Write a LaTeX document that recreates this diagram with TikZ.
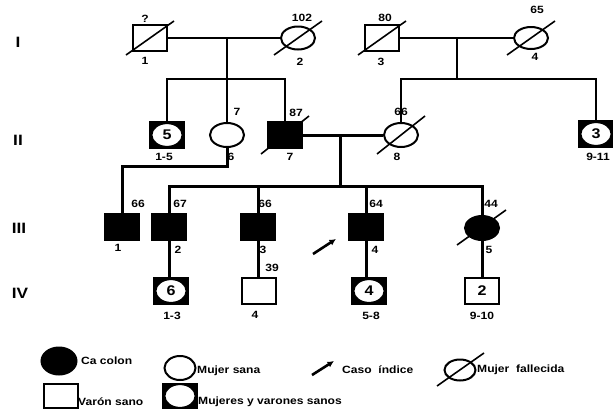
\documentclass[tikz,border=0pt]{standalone}
\usepackage{fontspec}
\setmainfont{Liberation Sans}
\newfontfamily\widesans[FakeStretch=1.15]{Liberation Sans}
\usetikzlibrary{shapes.geometric,arrows.meta,calc}
\begin{document}
\begin{tikzpicture}[x=1pt,y=-1pt,
  sq/.style={draw,line width=2pt,minimum width=34pt,minimum height=26pt,inner sep=0pt,fill=white},
  fem/.style={ellipse,draw,line width=2pt,minimum width=34pt,minimum height=24pt,inner sep=0pt,fill=white},
  aff/.style={fill=black},
  grp/.style={sq,fill=black,font=\widesans\fontsize{14}{14}\selectfont\bfseries,
    path picture={\filldraw[fill=white,draw=black,line width=1.4pt] (path picture bounding box.center) ellipse (15.3pt and 11.6pt);}},
  numin/.style={font=\widesans\fontsize{14}{14}\selectfont\bfseries},
  lbl/.style={font=\widesans\fontsize{10.5}{10.5}\selectfont\bfseries,inner sep=0pt},
  gen/.style={font=\widesans\fontsize{15}{15}\selectfont\bfseries,inner sep=0pt},
  leg/.style={font=\widesans\fontsize{10.5}{11}\selectfont\bfseries,inner sep=0pt,anchor=west},
  thinl/.style={line width=2pt},
  thickl/.style={line width=3pt},
  slash/.style={line width=1.6pt},
  prob/.style={line width=2.6pt,-{Latex[length=6.5pt,width=6.5pt]}}
]
\useasboundingbox (0,0) rectangle (613,410);

% generation labels
\node[gen] (gI) at (18,42) {I};
\node[gen] (gII) at (18,140) {II};
\node[gen] (gIII) at (19,228) {III};
\node[gen] (gIV) at (20,293) {IV};

% generation I
\node[sq] (I1) at (150,38) {};
\node[fem,minimum height=23pt] (I2) at (298,38) {};
\node[sq] (I3) at (382,38) {};
\node[fem,minimum height=22pt] (I4) at (531,38) {};
\foreach \n in {I1,I2,I3,I4} \draw[slash] ($(\n)+(-24,17)$) -- ($(\n)+(24,-17)$);
\node[lbl] (I1a) at (145,19) {?};
\node[lbl] (I1b) at (145,61) {1};
\node[lbl] (I2a) at (302,18) {102};
\node[lbl] (I2b) at (300,62) {2};
\node[lbl] (I3a) at (385,18) {80};
\node[lbl] (I3b) at (381,62) {3};
\node[lbl] (I4a) at (537,10) {65};
\node[lbl] (I4b) at (535,57) {4};

% generation II
\node[grp] (II1) at (167,135) {5};
\node[fem] (II6) at (227,135) {};
\node[sq,aff] (II7) at (285,135) {};
\node[fem] (II8) at (401,135) {};
\node[grp] (II9) at (596,134) {3};
\draw[slash] ($(II7)+(-24,19)$) -- ($(II7)+(24,-19)$);
\draw[slash] ($(II8)+(-24,19)$) -- ($(II8)+(24,-19)$);
\node[lbl] (II1b) at (164,157) {1-5};
\node[lbl] (II6a) at (237,112) {7};
\node[lbl] (II6b) at (231,157) {6};
\node[lbl] (II7a) at (296,113) {87};
\node[lbl] (II7b) at (290,157) {7};
\node[lbl] (II8a) at (401,112) {66};
\node[lbl] (II8b) at (397,157) {8};
\node[lbl] (II9b) at (598,157) {9-11};

% gen I -> II connections
\draw[thinl] (I1.east) -- (I2.west);
\coordinate (d1) at (227,38);
\coordinate (s1) at (227,79);
\draw[thinl] (d1) -- (s1);
\draw[thinl] (II1.north) -- (II1.north |- s1) -- (II7.north |- s1) -- (II7.north);
\draw[thinl] (II6.north) -- (II6.north |- s1);

\draw[thinl] (I3.east) -- (I4.west);
\coordinate (d2) at (457,38);
\coordinate (s2) at (457,79);
\draw[thinl] (d2) -- (s2);
\draw[thinl] (II8.north) -- (II8.north |- s2) -- (II9.north |- s2) -- (II9.north);

% generation III
\node[sq,aff] (III1) at (122,227) {};
\node[sq,aff] (III2) at (169,227) {};
\node[sq,aff] (III3) at (258,227) {};
\node[sq,aff] (III4) at (366,227) {};
\node[fem,aff] (III5) at (482,228) {};
\draw[slash] ($(III5)+(-25,17)$) -- ($(III5)+(24,-18)$);
\node[lbl] (III1a) at (138,204) {66};
\node[lbl] (III1b) at (118,248) {1};
\node[lbl] (III2a) at (180,204) {67};
\node[lbl] (III2b) at (178,250) {2};
\node[lbl] (III3a) at (265,204) {66};
\node[lbl] (III3b) at (263,250) {3};
\node[lbl] (III4a) at (376,204) {64};
\node[lbl] (III4b) at (375,250) {4};
\node[lbl] (III5a) at (491,204) {44};
\node[lbl] (III5b) at (489,250) {5};

% gen II -> III connections
\draw[thickl] (II7.east) -- (II8.west);
\coordinate (d3) at (340,135);
\coordinate (s3) at (340,186);
\draw[thickl] (d3) -- (s3);
\draw[thickl] (III2.north) -- (III2.north |- s3) -- (III5.north |- s3) -- (III5.north);
\draw[thickl] (III3.north) -- (III3.north |- s3);
\draw[thickl] (III4.north) -- (III4.north |- s3);
\draw[thickl] (II6.south) -- ++(0,18) -| (III1.north);

% index case arrow
\coordinate (a1) at (313,254);
\coordinate (a2) at (336,239);
\draw[prob] (a1) -- (a2);

% generation IV
\node[grp] (IV1) at (171,291) {6};
\node[sq] (IV4) at (259,291) {};
\node[grp] (IV5) at (369,291) {4};
\node[sq,numin] (IV9) at (482,291) {2};
\node[lbl] (IV1b) at (172,316) {1-3};
\node[lbl] (IV4a) at (272,268) {39};
\node[lbl] (IV4b) at (255,315) {4};
\node[lbl] (IV5b) at (371,316) {5-8};
\node[lbl] (IV9b) at (482,316) {9-10};

\draw[thickl] (III2.south) -- (III2.south |- IV1.north);
\draw[thickl] (III3.south) -- (III3.south |- IV4.north);
\draw[thickl] (III4.south) -- (III4.south |- IV5.north);
\draw[thickl] (III5.south) -- (III5.south |- IV9.north);

% legend
\node[fem,aff,minimum width=35pt,minimum height=27pt] (L1) at (59,361) {};
\node[leg] (L1t) at (81,361) {Ca colon};
\node[fem,minimum width=31pt,minimum height=24pt] (L2) at (180,368) {};
\node[leg] (L2t) at (197,371) {Mujer sana};
\coordinate (la1) at (312,375);
\coordinate (la2) at (334,361);
\draw[prob] (la1) -- (la2);
\node[leg] (L3t) at (342,370) {Caso\ \ índice};
\node[fem,minimum width=31pt,minimum height=21pt] (L4) at (460,370) {};
\draw[slash] ($(L4)+(-23,16)$) -- ($(L4)+(24,-17)$);
\node[leg] (L4t) at (477,370) {Mujer\ \ fallecida};
\node[sq,minimum height=24pt] (L5) at (61,396) {};
\node[leg] (L5t) at (78,402) {Varón sano};
\node[grp,minimum height=24pt] (L6) at (180,396) {};
\node[leg] (L6t) at (198,402) {Mujeres y varones sanos};
\end{tikzpicture}
\end{document}
